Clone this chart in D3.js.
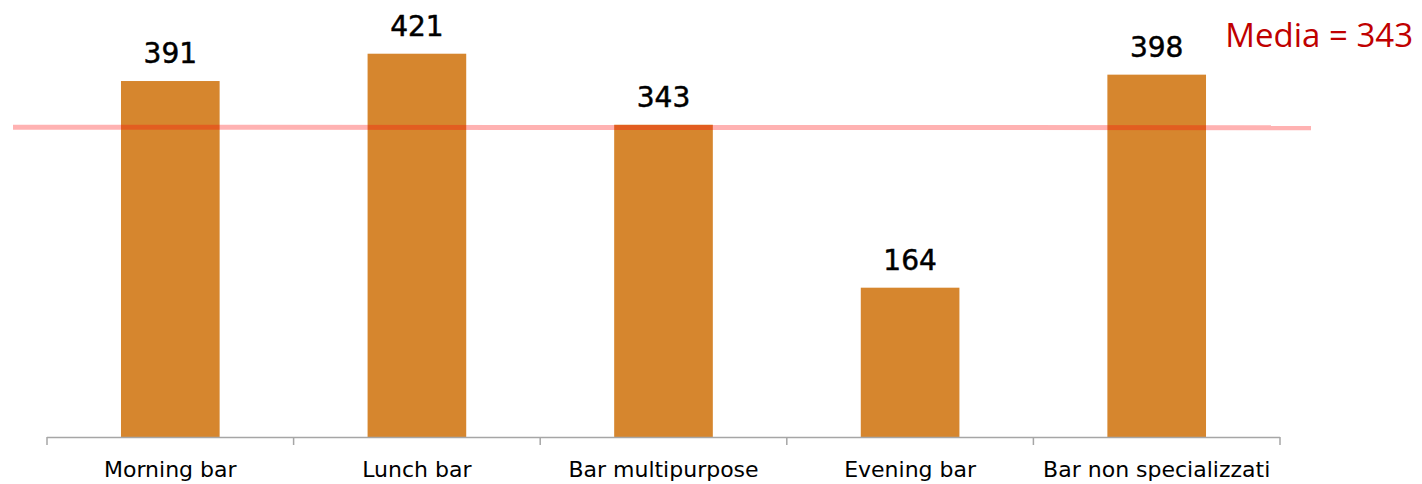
<!DOCTYPE html>
<html>
<head>
<meta charset="utf-8">
<script src="https://cdn.jsdelivr.net/npm/d3@7"></script>
<style>
  html, body { margin: 0; padding: 0; background: #fff; }
  svg { display: block; }
</style>
</head>
<body>
<svg id="chart" width="1422" height="484"></svg>
<script>
const categories = ["Morning bar", "Lunch bar", "Bar multipurpose", "Evening bar", "Bar non specializzati"];
const values = [391, 421, 343, 164, 398];
const meanValue = 343;
const meanLabel = "Media = 343";

const svg = d3.select("#chart");
const x = d3.scaleBand().domain(categories).range([47, 1280]).paddingInner(0.6).paddingOuter(0.3);
const y = d3.scaleLinear().domain([0, 480]).range([437, 0]);

// bars
svg.append("g").selectAll("rect").data(values).join("rect")
  .attr("x", (d, i) => x(categories[i]))
  .attr("y", d => y(d))
  .attr("width", x.bandwidth())
  .attr("height", d => y(0) - y(d))
  .attr("fill", "#d6862e");

// value labels
svg.append("g").selectAll("text").data(values).join("text")
  .attr("x", (d, i) => x(categories[i]) + x.bandwidth() / 2)
  .attr("y", d => y(d) - 18)
  .attr("text-anchor", "middle")
  .attr("font-family", "DejaVu Sans, sans-serif")
  .attr("font-size", 28)
  .attr("fill", "#000")
  .attr("stroke", "#000")
  .attr("stroke-width", 0.5)
  .text(d => d);

// axis
const axisG = svg.append("g");
axisG.append("line")
  .attr("x1", x.range()[0]).attr("x2", x.range()[1])
  .attr("y1", y(0) + 0.5).attr("y2", y(0) + 0.5)
  .attr("stroke", "#a6a6a6").attr("stroke-width", 1.5);
const bounds = categories.map(c => x(c) - (x.step() - x.bandwidth()) / 2);
bounds.push(x.range()[1]);
axisG.selectAll("line.tick").data(bounds).join("line")
  .attr("class", "tick")
  .attr("x1", d => d).attr("x2", d => d)
  .attr("y1", y(0)).attr("y2", y(0) + 8)
  .attr("stroke", "#a6a6a6").attr("stroke-width", 1.5);
axisG.selectAll("text").data(categories).join("text")
  .attr("x", d => x(d) + x.bandwidth() / 2)
  .attr("y", y(0) + 40)
  .attr("text-anchor", "middle")
  .attr("font-family", "DejaVu Sans, sans-serif")
  .attr("font-size", 22)
  .attr("fill", "#000")
  .text(d => d);

// mean line
svg.append("line")
  .attr("x1", 13).attr("x2", 1311)
  .attr("y1", y(meanValue) + 2.5).attr("y2", y(meanValue) + 3)
  .attr("stroke", "rgba(255,0,0,0.3)")
  .attr("stroke-width", 5);

svg.append("text")
  .attr("x", 1413).attr("y", 47)
  .attr("text-anchor", "end")
  .attr("font-family", "Open Sans, sans-serif")
  .attr("font-size", 33)
  .attr("fill", "#c00000")
  .text(meanLabel);
</script>
</body>
</html>
